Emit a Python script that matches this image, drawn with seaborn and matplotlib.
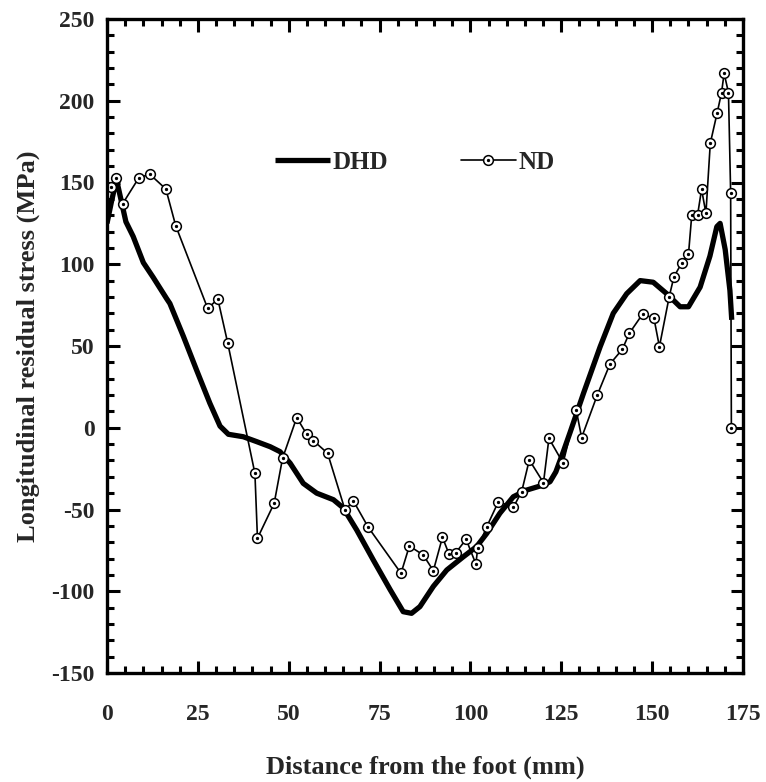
import numpy as np
import pandas as pd
import seaborn as sns
import matplotlib
matplotlib.use("Agg")
import matplotlib.pyplot as plt
from matplotlib.ticker import MultipleLocator
from matplotlib.legend_handler import HandlerTuple

# ---- data ----
dhd_x = [0, 1.2, 2.6, 4.0, 5.2, 7.2, 10.0, 12.7, 16.4, 17.3, 21.0, 24.7, 28.3, 31.1,
         33.4, 37.5, 41.2, 44.9, 47.6, 50.4, 54.0, 57.7, 62.3, 65.0, 68.7, 73.3,
         77.9, 81.5, 83.8, 86.1, 89.8, 93.5, 98.0, 101.7, 104.5, 108.1, 111.8,
         115.5, 120.1, 121.9, 123.5, 125.5, 127.4, 131.1, 135.7, 139.3, 143.0,
         146.7, 150.3, 154.0, 157.7, 160.0, 163.2, 165.9, 167.8, 168.7, 170.1,
         171.4, 171.9]
dhd_y = [125, 138, 152, 138, 126, 117, 101, 92, 79, 76, 56, 35, 15, 1,
         -4, -5.5, -8.5, -11.6, -14.6, -21.7, -34, -40, -44, -49, -62.5, -81,
         -99, -112.5, -113.5, -109.4, -97, -87, -79, -72.7, -64.6, -52.3, -42.2,
         -38.1, -35, -33, -27, -15, -3, 21, 49.6, 70, 82,
         90, 89, 82, 74, 74, 86, 105, 123, 125, 109,
         84, 66]

nd_x = [1.1, 2.5, 4.3, 8.8, 11.8, 16.2, 18.9, 27.7, 30.5, 33.2, 40.7, 41.4, 46.0,
        48.3, 52.2, 54.9, 56.8, 60.7, 65.5, 67.8, 71.9, 80.9, 83.2, 87.0, 89.8,
        92.3, 94.1, 96.0, 98.8, 101.5, 102.0, 104.5, 107.7, 111.8, 114.1, 116.2,
        120.1, 121.6, 125.5, 129.1, 130.6, 134.9, 138.4, 141.8, 143.7, 147.4,
        150.5, 152.0, 154.7, 156.0, 158.1, 160.0, 160.9, 162.5, 163.6, 164.8,
        166.0, 167.9, 169.1, 169.8, 171.0, 171.6, 171.8]
nd_y = [147, 153, 137, 153, 155, 146, 123.6, 73, 78.7, 52, -27.9, -67.6, -46.2,
        -18.7, 6.2, -3.8, -7.9, -15.6, -50.3, -44.8, -60.9, -89, -72.3, -77.8, -87.4,
        -67, -77.2, -76.4, -68.2, -83.3, -73.7, -60.5, -45.2, -48.7, -39.1, -19.7,
        -33.6, -6.5, -21.6, 10.9, -6, 20, 39, 48, 57.7, 69.6,
        66.9, 49.6, 80.2, 92.4, 100.6, 106.1, 130.1, 130.1, 145.8, 131.2,
        174, 192.7, 205, 216.8, 205, 143.8, -0.3]

x_ticks = [0, 25, 50, 75, 100, 125, 150, 175]
y_ticks = [-150, -100, -50, 0, 50, 100, 150, 200, 250]

dhd = pd.DataFrame({"x": dhd_x, "y": dhd_y})
nd = pd.DataFrame({"x": nd_x, "y": nd_y})

sns.set_theme(style="white")
plt.rcParams["font.family"] = ["Liberation Serif", "DejaVu Serif"]
plt.rcParams["font.weight"] = "bold"
plt.rcParams["axes.unicode_minus"] = False

fig = plt.figure(figsize=(7.66, 7.82), dpi=100)
ax = fig.add_axes([107 / 766, 1 - 673 / 782, 636 / 766, 654 / 782])

sns.lineplot(data=dhd, x="x", y="y", ax=ax, color="black", linewidth=3.8,
             sort=False, estimator=None, label="DHD",
             solid_joinstyle="round", solid_capstyle="butt")
sns.lineplot(data=nd, x="x", y="y", ax=ax, color="black", linewidth=1.2,
             sort=False, estimator=None, marker="o", markersize=7,
             markerfacecolor="white", markeredgecolor="black",
             markeredgewidth=1.1, label="ND")
sns.lineplot(data=nd, x="x", y="y", ax=ax, color="black", linewidth=0,
             sort=False, estimator=None, marker="o", markersize=1.6,
             markerfacecolor="black", markeredgecolor="black", label="_dots")

lines = ax.get_lines()
h_dhd, h_nd, h_dot = lines[0], lines[1], lines[2]
if ax.get_legend() is not None:
    ax.get_legend().remove()

ax.set_xlim(0, 175)
ax.set_ylim(-150, 250)
ax.set_xticks(x_ticks)
ax.set_yticks(y_ticks)
ax.xaxis.set_minor_locator(MultipleLocator(5))
ax.yaxis.set_minor_locator(MultipleLocator(10))
ax.tick_params(which="both", direction="in", top=True, right=True,
               bottom=True, left=True, color="black")
ax.tick_params(which="major", length=9, width=2.2)
ax.tick_params(which="minor", length=5, width=2.2)
ax.tick_params(axis="x", which="major", pad=22, labelsize=17)
ax.tick_params(axis="y", which="major", pad=9, labelsize=17)
for lab in ax.get_xticklabels() + ax.get_yticklabels():
    lab.set_fontweight("bold")
for s in ax.spines.values():
    s.set_linewidth(2.4)
    s.set_color("black")

ax.set_xlabel("Distance from the foot (mm)", fontsize=19, fontweight="bold",
              labelpad=22)
ax.set_ylabel("Longitudinal residual stress (MPa)", fontsize=19,
              fontweight="bold", labelpad=8)

leg = ax.legend([h_dhd, (h_nd, h_dot)], ["DHD", "ND"],
                handler_map={tuple: HandlerTuple(ndivide=1)},
                loc="center left", bbox_to_anchor=(0.264, 0.781), ncol=2,
                frameon=False, fontsize=18, handlelength=2.2,
                handletextpad=0.1, columnspacing=2.9, borderpad=0,
                borderaxespad=0, numpoints=1)
for t in leg.get_texts():
    t.set_fontweight("bold")

fig.savefig("out.png", dpi=100)
